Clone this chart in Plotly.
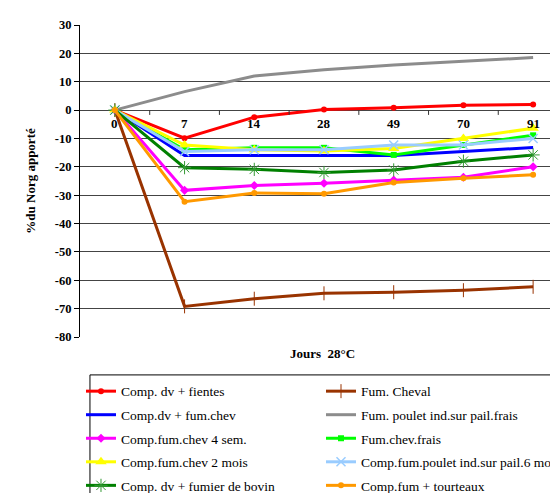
import plotly.graph_objects as go

days = ["0", "7", "14", "28", "49", "70", "91"]

red_fientes = [0, -9.9, -2.5, 0.2, 0.8, 1.7, 2.0]
brown_cheval = [0, -69.2, -66.5, -64.6, -64.2, -63.5, -62.3]
blue_dv_chev = [0, -16.0, -16.0, -16.0, -16.0, -14.6, -13.2]
gray_poulet = [0, 6.5, 12.0, 14.2, 15.9, 17.3, 18.5]
magenta_4sem = [0, -28.3, -26.6, -25.8, -24.7, -23.7, -20.0]
lgreen_frais = [0, -14.0, -13.3, -13.3, -15.8, -12.3, -8.9]
yellow_2mois = [0, -12.3, -14.0, -14.4, -13.5, -10.0, -6.4]
lblue_6mois = [0, -14.6, -14.0, -14.0, -12.3, -12.3, -10.0]
dgreen_bovin = [0, -20.3, -20.9, -22.0, -21.1, -18.0, -15.8]
orange_tourteaux = [0, -32.3, -29.2, -29.5, -25.5, -24.0, -22.8]

y_ticks = [30, 20, 10, 0, -10, -20, -30, -40, -50, -60, -70, -80]
y_tick_labels = [str(v) for v in y_ticks]

# (name, values, colour, marker, legend column)
series = [
    ("Comp. dv + fientes", red_fientes, "#FF0000", dict(symbol="circle", size=6, color="#FF0000"), "legend"),
    ("Fum. Cheval", brown_cheval, "#993300", dict(symbol="line-ns", size=10, line=dict(color="#993300", width=1)), "legend2"),
    ("Comp.dv + fum.chev", blue_dv_chev, "#0000FF", None, "legend"),
    ("Fum. poulet ind.sur pail.frais", gray_poulet, "#8C8C8C", None, "legend2"),
    ("Comp.fum.chev 4 sem.", magenta_4sem, "#FF00FF", dict(symbol="diamond", size=7, color="#FF00FF"), "legend"),
    ("Fum.chev.frais", lgreen_frais, "#00FF00", dict(symbol="square", size=6, color="#00FF00"), "legend2"),
    ("Comp.fum.chev 2 mois", yellow_2mois, "#FFFF00", dict(symbol="triangle-up", size=10, color="#FFFF00"), "legend"),
    ("Comp.fum.poulet ind.sur pail.6 mois", lblue_6mois, "#99CCFF", dict(symbol="x-thin", size=9, line=dict(color="#99CCFF", width=1.5)), "legend2"),
    ("Comp. dv + fumier de bovin", dgreen_bovin, "#008000", dict(symbol="asterisk", size=11, line=dict(color="#339933", width=1)), "legend"),
    ("Comp.fum + tourteaux", orange_tourteaux, "#FF9900", dict(symbol="circle", size=6, color="#FF9900"), "legend2"),
]

fig = go.Figure()
for i, (name, vals, col, mk, lg) in enumerate(series):
    kw = dict(x=days, y=vals, name=name, line=dict(color=col, width=3),
              legend=lg, legendgroup="g%d" % i)
    if mk is None:
        kw["mode"] = "lines"
    else:
        kw["mode"] = "lines+markers"
        kw["marker"] = mk
    fig.add_trace(go.Scatter(**kw))

# category labels sitting on the zero line
for i, d in enumerate(days):
    fig.add_annotation(x=i, y=0, xref="x", yref="y", text=d, showarrow=False,
                       yanchor="top", yshift=-4,
                       font=dict(family="Liberation Serif", size=13, color="black", weight="bold"))

# tick marks between categories at zero line
for i in range(len(days)):
    fig.add_shape(type="line", xref="x", yref="y", x0=i + 0.5, x1=i + 0.5,
                  y0=0, y1=-1.7, line=dict(color="#333", width=1))

fig.add_annotation(x=0.5, y=-0.053, xref="paper", yref="paper", text="Jours  28°C",
                   showarrow=False, xanchor="center", yanchor="middle",
                   font=dict(family="Liberation Serif", size=13, color="black", weight="bold"))

# legend frame
fig.add_shape(type="rect", xref="paper", yref="paper",
              x0=(82 - 72) / 486, x1=(600 - 72) / 486,
              y0=(338 - 377) / 321, y1=(338 - 520) / 321,
              line=dict(color="black", width=1), fillcolor="rgba(0,0,0,0)", layer="above")

fig.update_xaxes(type="category", range=[-0.5, 6.443], showgrid=False, showline=False,
                 zeroline=False, showticklabels=False, ticks="")
fig.update_yaxes(range=[-80, 30], tickvals=y_ticks, ticktext=y_tick_labels,
                 showgrid=True, gridcolor="#444",
                 gridwidth=1, zeroline=True, zerolinecolor="#444", zerolinewidth=1,
                 showline=True, linecolor="black", linewidth=1, ticks="outside",
                 ticklen=5, tickcolor="black",
                 tickfont=dict(family="Liberation Serif", size=12.5, color="black", weight="bold"),
                 title=dict(text="%du Norg apporté", standoff=16,
                            font=dict(family="Liberation Serif", size=13, color="black", weight="bold")))

leg_common = dict(orientation="v", xanchor="left", yanchor="top",
                  bgcolor="rgba(0,0,0,0)", borderwidth=0,
                  font=dict(family="Liberation Serif", size=13.5, color="black"),
                  tracegroupgap=3, itemwidth=30)
fig.update_layout(
    width=558, height=493,
    margin=dict(l=72, r=0, t=17, b=155),
    plot_bgcolor="white", paper_bgcolor="white",
    font=dict(family="Liberation Serif", color="black"),
    legend=dict(x=(73 - 72) / 486, y=(338 - 378) / 321, **leg_common),
    legend2=dict(x=(314 - 72) / 486, y=(338 - 378) / 321, **leg_common),
)

fig.write_html("out.html")
